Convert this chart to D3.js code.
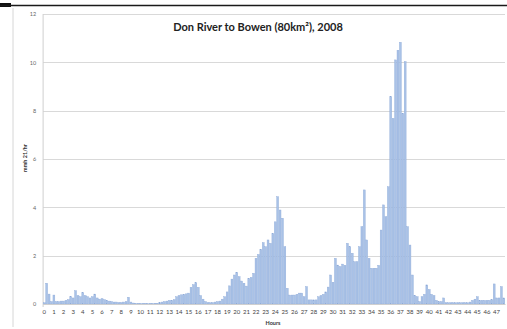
<!DOCTYPE html>
<html>
<head>
<meta charset="utf-8">
<script src="https://cdn.jsdelivr.net/npm/d3@7"></script>
<style>
  html, body { margin: 0; padding: 0; background: #fff; }
  svg { display: block; }
</style>
</head>
<body>
<div id="chart"></div>
<script>
// Quarter-hour values, four readings per hour, hours 0–47
const runoff = [
  0.05, 0.86, 0.41, 0.10,   0.37, 0.10, 0.10, 0.12,   0.12, 0.15, 0.18, 0.30,   0.25, 0.55, 0.35, 0.30,
  0.47, 0.35, 0.30, 0.25,   0.30, 0.41, 0.25, 0.20,   0.22, 0.18, 0.15, 0.12,   0.10, 0.08, 0.08, 0.06,
  0.06, 0.08, 0.10, 0.28,   0.08, 0.04, 0.03, 0.02,   0.02, 0.02, 0.02, 0.02,   0.02, 0.02, 0.03, 0.03,
  0.05, 0.08, 0.10, 0.12,   0.15, 0.15, 0.18, 0.30,   0.35, 0.38, 0.40, 0.42,   0.45, 0.69, 0.80, 0.88,
  0.69, 0.35, 0.20, 0.10,   0.06, 0.05, 0.06, 0.08,   0.10, 0.12, 0.20, 0.30,   0.50, 0.75, 1.03, 1.20,
  1.31, 1.13, 0.95, 0.86,   0.74, 1.06, 1.10, 1.27,   1.89, 2.05, 2.26, 2.54,   2.37, 2.65, 2.51, 2.92,
  3.40, 4.44, 3.89, 3.55,   2.37, 0.65, 0.37, 0.37,   0.37, 0.40, 0.45, 0.45,   0.30, 0.72, 0.17, 0.17,
  0.17, 0.17, 0.30, 0.35,   0.40, 0.50, 0.70, 1.20,   0.90, 1.89, 1.61, 1.55,   1.65, 1.60, 2.51, 2.37,
  2.10, 1.75, 1.75, 2.37,   3.20, 4.72, 2.65, 1.89,   1.48, 1.48, 1.48, 1.60,   3.06, 4.10, 3.61, 4.85,
  8.58, 7.68, 10.10, 10.50, 10.83, 7.89, 10.03, 3.20, 2.44, 1.20, 0.35, 0.30,   0.10, 0.30, 0.40, 0.79,
  0.60, 0.40, 0.35, 0.15,   0.10, 0.10, 0.25, 0.05,   0.05, 0.05, 0.05, 0.05,   0.05, 0.05, 0.05, 0.05,
  0.05, 0.08, 0.15, 0.20,   0.30, 0.15, 0.15, 0.15,   0.15, 0.15, 0.18, 0.83,   0.25, 0.25, 0.72, 0.25
];

const hourLabels = [
  "0","1","2","3","4","5","6","7","8","9","10","11","12","13","14","15",
  "16","17","18","19","20","21","22","23","24","25","26","27","28","29","30","31",
  "32","33","34","35","36","37","38","39","40","41","42","43","44","45","46","47"
];

const yTicks = [0, 2, 4, 6, 8, 10, 12];
const stepsPerHour = 4;

const chartTitle = "Don River to Bowen (80km²), 2008";
const xTitle = "Hours";
const yTitle = "mmh 21/hr";

const W = 507, H = 329;
const plot = { left: 43.1, right: 505, top: 14, bottom: 304 };

const svg = d3.select("#chart").append("svg")
  .attr("width", W).attr("height", H);

// page rule along the top and the chart-area frame
svg.append("rect").attr("x", 0).attr("y", 3).attr("width", 11).attr("height", 4).attr("fill", "#111");
svg.append("line").attr("x1", 0).attr("x2", W).attr("y1", 5.5).attr("y2", 5.5)
  .attr("stroke", "#1a1a1a").attr("stroke-width", 1.5);
svg.append("line").attr("x1", 13).attr("x2", 13).attr("y1", 8).attr("y2", 327)
  .attr("stroke", "#d6d6d6").attr("stroke-width", 1);

const x = d3.scaleBand()
  .domain(d3.range(runoff.length))
  .range([plot.left, plot.right])
  .paddingInner(0.22)
  .paddingOuter(0.1);

const y = d3.scaleLinear().domain([0, 12]).range([plot.bottom, plot.top]);

// horizontal gridlines
svg.append("g")
  .selectAll("line")
  .data(yTicks)
  .join("line")
  .attr("x1", plot.left).attr("x2", plot.right)
  .attr("y1", d => Math.round(y(d)) + 0.5).attr("y2", d => Math.round(y(d)) + 0.5)
  .attr("stroke", "#d9d9d9").attr("stroke-width", 1);

// vertical axis line
svg.append("line")
  .attr("x1", plot.left).attr("x2", plot.left)
  .attr("y1", plot.top).attr("y2", plot.bottom + 3)
  .attr("stroke", "#cfcfcf").attr("stroke-width", 1);

// bars
svg.append("g")
  .selectAll("rect")
  .data(runoff)
  .join("rect")
  .attr("x", (d, i) => x(i))
  .attr("width", x.bandwidth())
  .attr("y", d => y(d))
  .attr("height", d => y(0) - y(d))
  .attr("fill", "#a9c2e7")
  .attr("stroke", "#8eaad8")
  .attr("stroke-width", 0.4);

// y axis labels
const yAxis = d3.axisLeft(y).tickValues(yTicks).tickSize(0).tickPadding(7);
const gy = svg.append("g").attr("transform", `translate(${plot.left},0)`).call(yAxis);
gy.select(".domain").remove();
gy.selectAll("text")
  .attr("font-family", "Lato, 'Open Sans', sans-serif")
  .attr("font-size", 5.5)
  .attr("fill", "#666");

// x axis: one label per hour at the first quarter of that hour
const xAxis = d3.axisBottom(x)
  .tickValues(d3.range(0, runoff.length, stepsPerHour))
  .tickFormat(i => hourLabels[i / stepsPerHour])
  .tickSize(0)
  .tickPadding(6);
const gx = svg.append("g").attr("transform", `translate(0,${plot.bottom})`).call(xAxis);
gx.select(".domain").attr("stroke", "#cfcfcf");
gx.selectAll("text")
  .attr("font-family", "Lato, 'Open Sans', sans-serif")
  .attr("font-size", 6)
  .attr("fill", "#444");

// titles
svg.append("text")
  .attr("x", 258).attr("y", 31)
  .attr("text-anchor", "middle")
  .attr("font-family", "Lato, 'Open Sans', sans-serif")
  .attr("font-weight", "bold")
  .attr("font-size", 11)
  .attr("fill", "#222")
  .text(chartTitle);

svg.append("text")
  .attr("x", 273).attr("y", 325)
  .attr("text-anchor", "middle")
  .attr("font-family", "Lato, 'Open Sans', sans-serif")
  .attr("font-weight", "bold")
  .attr("font-size", 5.5)
  .attr("fill", "#333")
  .text(xTitle);

svg.append("text")
  .attr("transform", "translate(27,158) rotate(-90)")
  .attr("text-anchor", "middle")
  .attr("font-family", "Lato, 'Open Sans', sans-serif")
  .attr("font-weight", "bold")
  .attr("font-size", 5.5)
  .attr("fill", "#333")
  .text(yTitle);
</script>
</body>
</html>
